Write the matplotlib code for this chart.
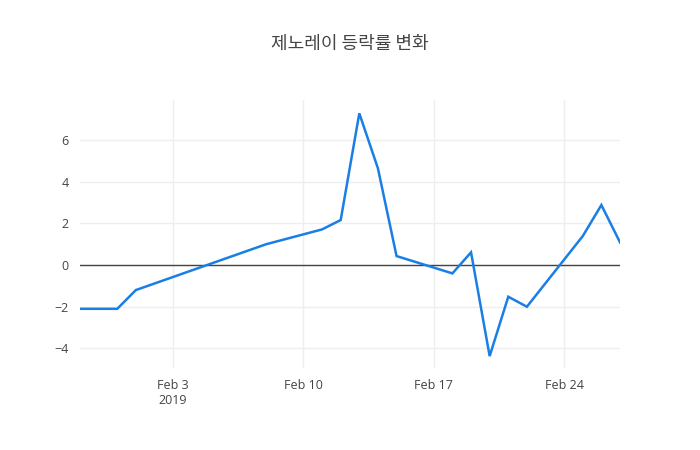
import numpy as np
import pandas as pd
import matplotlib
matplotlib.use("Agg")
import matplotlib.pyplot as plt
import matplotlib.dates as mdates

plt.rcParams["font.family"] = ["Open Sans", "Noto Sans CJK KR", "DejaVu Sans"]

TITLE = "제노레이 등락률 변화"
dates = pd.to_datetime([
    "2019-01-29", "2019-01-31", "2019-02-01", "2019-02-08", "2019-02-11",
    "2019-02-12", "2019-02-13", "2019-02-14", "2019-02-15", "2019-02-18",
    "2019-02-19", "2019-02-20", "2019-02-21", "2019-02-22", "2019-02-25",
    "2019-02-26", "2019-02-27",
])
rates = [-2.10, -2.10, -1.20, 1.00, 1.71,
         2.16, 7.28, 4.64, 0.43, -0.40,
         0.61, -4.37, -1.52, -2.00, 1.39,
         2.88, 1.09]
tick_dates = pd.to_datetime(["2019-02-03", "2019-02-10", "2019-02-17", "2019-02-24"])
tick_labels = ["Feb 3\n2019", "Feb 10", "Feb 17", "Feb 24"]
y_ticks = [-4, -2, 0, 2, 4, 6]

LINE = "#1a7fe5"
TXT = "#444444"
GRID = "#eeeeee"

fig = plt.figure(figsize=(7, 4.5), dpi=100)
ax = fig.add_axes([80 / 700, 82 / 450, 540 / 700, 268 / 450])

ax.plot(dates, rates, color=LINE, lw=1.8, solid_joinstyle="miter", zorder=3)
ax.axhline(0, color=TXT, lw=1, zorder=2)

ax.set_xlim(dates[0], dates[-1])
ax.set_ylim(-4.94, 7.92)

ax.set_xticks(tick_dates)
ax.set_xticklabels(tick_labels)
ax.set_yticks(y_ticks)
ax.set_yticklabels([str(v).replace("-", "\u2212") for v in y_ticks])

ax.grid(True, color=GRID, lw=1)
ax.set_axisbelow(True)
for s in ax.spines.values():
    s.set_visible(False)
ax.tick_params(length=0, labelsize=9, labelcolor=TXT)
ax.tick_params(axis="x", pad=8)
ax.tick_params(axis="y", pad=8)

fig.text(0.5, 1 - 44 / 450, TITLE, ha="center", va="center", fontsize=13,
         color=TXT, family=["Noto Sans CJK KR", "DejaVu Sans"])

fig.savefig("out.png", dpi=100, facecolor="white")
